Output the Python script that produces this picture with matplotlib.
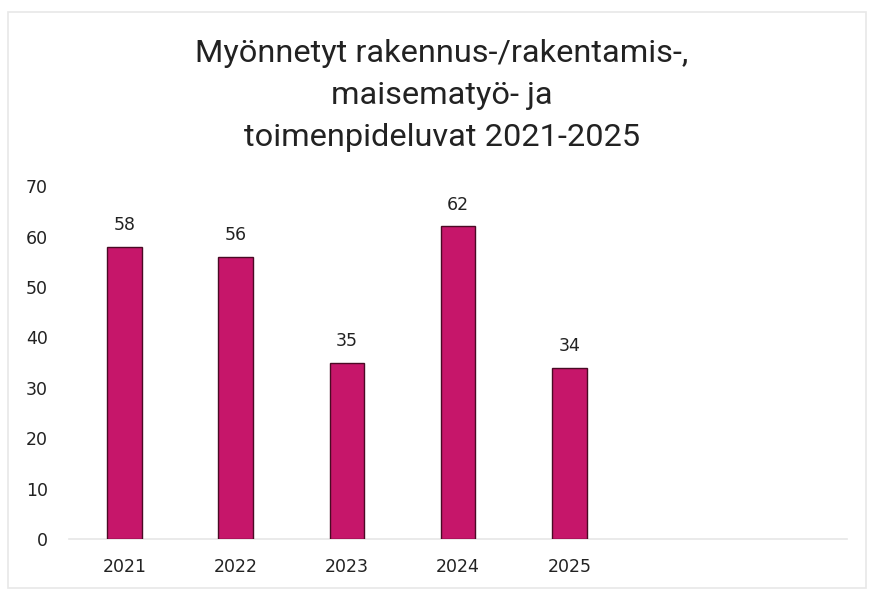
import numpy as np
import matplotlib.pyplot as plt

# data
years = ['2021', '2022', '2023', '2024', '2025', '', '']
values = [58, 56, 35, 62, 34]
yticks = [0, 10, 20, 30, 40, 50, 60, 70]

bar_col = '#C6166A'
edge_col = '#4a0a24'

fig = plt.figure(figsize=(8.71, 5.91), dpi=100)
ax = fig.add_axes([0.079, 0.088, 0.894, 0.597])

x = np.arange(len(years))
bars = ax.bar(x[:len(values)], values, width=0.31, color=bar_col,
              edgecolor=edge_col, linewidth=1.0, zorder=3)

for b, v in zip(bars, values):
    ax.annotate(str(v), (b.get_x() + b.get_width() / 2, v), xytext=(0, 9),
                textcoords='offset points', ha='center', va='bottom',
                fontsize=12.5, color='#222222')

ax.set_xlim(-0.5, len(years) - 0.5)
ax.set_ylim(0, 70)
ax.set_yticks(yticks)
ax.set_xticks(x)
ax.set_xticklabels(years)

for s in ['top', 'right', 'left']:
    ax.spines[s].set_visible(False)
ax.spines['bottom'].set_color('#e6e6e6')
ax.spines['bottom'].set_linewidth(1.2)
ax.tick_params(axis='both', length=0, labelsize=12.5, colors='#222222')
ax.tick_params(axis='y', pad=15)
ax.tick_params(axis='x', pad=14)

fig.text(0.507, 0.934, 'Myönnetyt rakennus-/rakentamis-,\nmaisematyö- ja\ntoimenpideluvat 2021-2025',
         ha='center', va='top', fontsize=23.4, linespacing=1.57,
         family=['Roboto', 'DejaVu Sans'], color='#222222')

# light border of the chart area
fig.patches.append(plt.Rectangle((0.009, 0.005), 0.985, 0.975, transform=fig.transFigure,
                                 fill=False, edgecolor='#e8e8e8', linewidth=1.2))

fig.savefig('out.png', dpi=100)
